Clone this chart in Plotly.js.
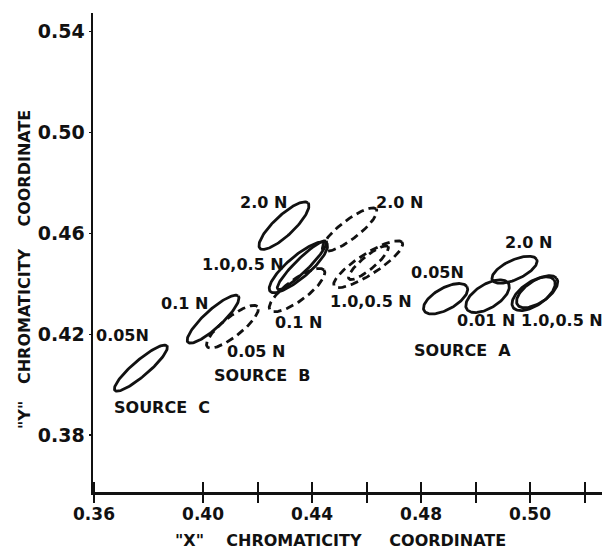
<!DOCTYPE html>
<html><head><meta charset="utf-8">
<script src="https://cdn.plot.ly/plotly-3.0.1.min.js"></script>
<style>html,body{margin:0;padding:0;background:#fff}#chart{width:606px;height:550px}</style>
</head><body><div id="chart"></div>
<script>
// ---- Data: chromaticity ellipses (centre, semi-axes, tilt) ----
const ellipseSource = ['C','B','B','B','B','B','B','B','B','B','A','A','A','A','A'];
const ellipseSeries = ['solid','solid','dashed','solid','solid','solid','dashed','dashed','dashed','dashed','solid','solid','solid','solid','solid'];
const ellipseConc   = ['0.05N','0.1N','0.05N','2.0N','1.0N','0.5N','0.1N','2.0N','1.0N','0.5N','0.05N','0.01N','2.0N','1.0N','0.5N'];
const centerX   = [0.3772,0.4037,0.4108,0.4297,0.4350,0.4363,0.4345,0.4538,0.4606,0.4607,0.4890,0.5044,0.5143,0.5213,0.5226];
const centerY   = [0.4066,0.4260,0.4230,0.4631,0.4466,0.4474,0.4375,0.4615,0.4478,0.4484,0.4341,0.4351,0.4456,0.4361,0.4369];
const semiMajor = [0.0130,0.0130,0.0122,0.0126,0.0141,0.0130,0.0127,0.0127,0.0152,0.0096,0.0092,0.0092,0.0091,0.0093,0.0089];
const semiMinor = [0.0030,0.0034,0.0037,0.0038,0.0042,0.0025,0.0041,0.0036,0.0040,0.0025,0.0042,0.0046,0.0038,0.0046,0.0043];
const tiltDeg   = [43,45,41,46,43,47,39,40,35,42,32,35,27,37,37];

// ---- Labels ----
const labelText = ['0.05N','SOURCE\u00a0\u00a0C','SOURCE\u00a0\u00a0B','0.05\u00a0N','0.1\u00a0N','0.1\u00a0N','1.0,0.5\u00a0N','2.0\u00a0N','2.0\u00a0N','1.0,0.5\u00a0N','0.05N','2.0\u00a0N','0.01\u00a0N','1.0,0.5\u00a0N','SOURCE\u00a0\u00a0A'];
const labelX = [0.3705,0.3848,0.4215,0.4193,0.3932,0.4350,0.4145,0.4222,0.4721,0.4615,0.4861,0.5194,0.5037,0.5316,0.4952];
const labelY = [0.4196,0.3911,0.4038,0.4133,0.4323,0.4248,0.4478,0.4724,0.4724,0.4331,0.4446,0.4566,0.4256,0.4256,0.4137];

// ---- Ticks ----
const xTickVals = [0.36,0.40,0.42,0.44,0.46,0.48,0.50,0.52,0.54];
const xTickText = ['0.36','0.40','','0.44','','0.48','','0.50',''];
const yTickVals = [0.38,0.42,0.46,0.50,0.54];
const yTickText = ['0.38','0.42','0.46','0.50','0.54'];

const FONT = 'DejaVu Sans, sans-serif';
const styles = {solid:{color:'#111',width:2.8,dash:'solid'}, dashed:{color:'#111',width:2.8,dash:'8px,5px'}};

const traces = [];
const N = 120;
for (let i = 0; i < centerX.length; i++) {
  const th = tiltDeg[i]*Math.PI/180, xs = [], ys = [];
  for (let k = 0; k <= N; k++) {
    const t = 2*Math.PI*k/N;
    const u = semiMajor[i]*Math.cos(t), v = semiMinor[i]*Math.sin(t);
    xs.push(centerX[i] + u*Math.cos(th) - v*Math.sin(th));
    ys.push(centerY[i] + u*Math.sin(th) + v*Math.cos(th));
  }
  traces.push({type:'scatter', mode:'lines', x:xs, y:ys, line:styles[ellipseSeries[i]],
    name:'Source '+ellipseSource[i]+' '+ellipseConc[i], hoverinfo:'name', showlegend:false});
}
// helper traces for the crossing tick overlay axes
traces.push({type:'scatter', mode:'lines', x:[], y:[], xaxis:'x2', yaxis:'y', showlegend:false, hoverinfo:'skip'});
traces.push({type:'scatter', mode:'lines', x:[], y:[], xaxis:'x3', yaxis:'y', showlegend:false, hoverinfo:'skip'});

const annotations = labelText.map((t,i)=>({x:labelX[i], y:labelY[i], xref:'x', yref:'y', text:t, showarrow:false,
  xanchor:'center', yanchor:'middle', font:{family:FONT, size:16, color:'#111', weight:'bold'}}));
annotations.push({xref:'paper', yref:'paper', x:(340-93)/(602-93), y:-(540-492)/(492-13), text:'"X"\u00a0\u00a0\u00a0\u00a0CHROMATICITY\u00a0\u00a0\u00a0\u00a0\u00a0COORDINATE',
  showarrow:false, xanchor:'center', yanchor:'middle', font:{family:FONT, size:16, color:'#111', weight:'bold'}});
annotations.push({xref:'paper', yref:'paper', x:-(93-25)/(602-93), y:(492-270)/(492-13), text:'"Y"\u00a0\u00a0\u00a0CHROMATICITY\u00a0\u00a0\u00a0\u00a0COORDINATE',
  showarrow:false, textangle:-90, xanchor:'center', yanchor:'middle', font:{family:FONT, size:16, color:'#111', weight:'bold'}});

const xr = [0.35963, 0.5464];
const tickBase = {range:xr, tickmode:'array', tickvals:xTickVals, tickwidth:2, tickcolor:'#111', showgrid:false, zeroline:false};
const layout = {
  width:606, height:550, margin:{l:93, r:4, t:13, b:58},
  paper_bgcolor:'#fff', plot_bgcolor:'#fff', showlegend:false,
  xaxis:Object.assign({}, tickBase, {ticktext:xTickText, ticks:'', ticklabelstandoff:5,
    showline:true, linewidth:2.5, linecolor:'#111', tickfont:{family:FONT, size:17, color:'#111', weight:'bold'}}),
  xaxis2:Object.assign({}, tickBase, {overlaying:'x', anchor:'y', side:'bottom', ticks:'outside', ticklen:10, showticklabels:false, showline:false}),
  xaxis3:Object.assign({}, tickBase, {overlaying:'x', anchor:'y', side:'bottom', ticks:'inside', ticklen:10, showticklabels:false, showline:false}),
  yaxis:{range:[0.35746, 0.54742], tickmode:'array', tickvals:yTickVals, ticktext:yTickText, ticks:'outside', ticklen:2, tickwidth:1.5, tickcolor:'#111',
    showline:true, linewidth:2.5, linecolor:'#111', showgrid:false, zeroline:false, tickfont:{family:FONT, size:19, color:'#111', weight:'bold'}},
  annotations:annotations
};
Plotly.newPlot('chart', traces, layout, {displayModeBar:false, staticPlot:true});
</script></body></html>
